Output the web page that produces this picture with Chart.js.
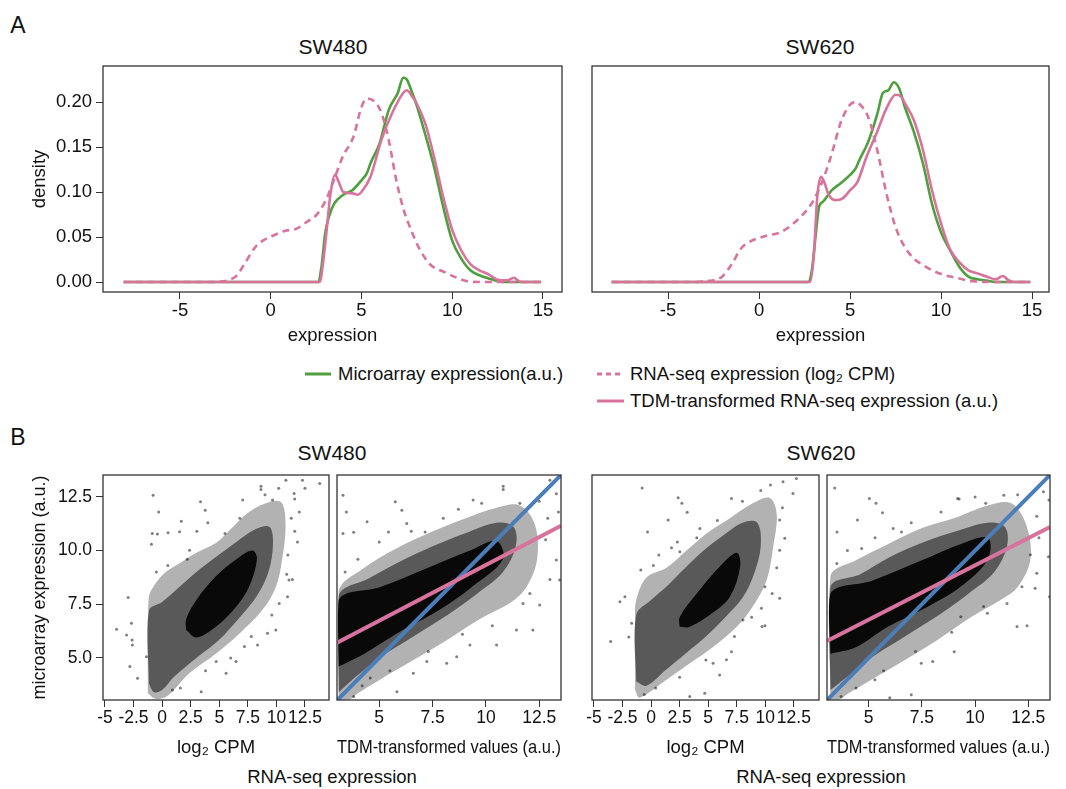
<!DOCTYPE html>
<html><head><meta charset="utf-8">
<script src="https://cdn.jsdelivr.net/npm/chart.js@4.4.1/dist/chart.umd.min.js"></script>
<style>
body{margin:0;background:#fff;width:1066px;height:789px;position:relative;overflow:hidden;font-family:"Liberation Sans",Arial,Helvetica,sans-serif;color:#111}
canvas{position:absolute}
.t{position:absolute;white-space:nowrap;transform:translate(-50%,-50%);line-height:1}
.l{position:absolute;white-space:nowrap;transform:translate(0,-50%);line-height:1}
svg{position:absolute;overflow:visible}
</style></head><body>
<div class="t" style="left:18px;top:25px;font-size:23px">A</div>
<div class="t" style="left:18px;top:437px;font-size:23px">B</div>
<div id="texts"></div>
<script>
// ---------- Panel A: density curves ----------
const seriesNames = ["Microarray expression(a.u.)", "RNA-seq expression (log\u2082 CPM)", "TDM-transformed RNA-seq expression (a.u.)"];
const cellLines = ["SW480", "SW620"];
const densTicksX = [-5, 0, 5, 10, 15];
const densTicksY = [0, 0.05, 0.10, 0.15, 0.20];

const sw480MicroX = [-8.1, 2.6, 2.8, 3.0, 3.2, 3.5, 4.0, 4.5, 5.0, 5.3, 5.5, 6.0, 6.5, 7.0, 7.3, 7.5, 7.8, 8.0, 8.5, 9.0, 9.5, 10.0, 10.5, 11.0, 11.5, 12.0, 12.5, 13.0, 14.9];
const sw480MicroY = [0, 0, 0.017, 0.054, 0.072, 0.087, 0.097, 0.102, 0.113, 0.121, 0.132, 0.154, 0.191, 0.21, 0.227, 0.225, 0.21, 0.199, 0.165, 0.128, 0.084, 0.046, 0.026, 0.013, 0.0075, 0.004, 0.001, 0, 0];
const sw480RnaX = [-8.1, -3.5, -2.5, -2.2, -1.86, -1.45, -0.84, -0.43, 0.18, 0.8, 1.4, 2.0, 2.5, 3.04, 3.55, 3.96, 4.57, 4.98, 5.29, 5.69, 6.1, 6.5, 6.92, 7.33, 7.73, 8.14, 8.76, 9.57, 10.39, 10.8, 11.5, 14.9];
const sw480RnaY = [0, 0, 0.001, 0.003, 0.0074, 0.02, 0.039, 0.046, 0.052, 0.057, 0.059, 0.067, 0.074, 0.091, 0.117, 0.139, 0.162, 0.193, 0.204, 0.201, 0.188, 0.158, 0.113, 0.08, 0.058, 0.039, 0.02, 0.011, 0.0037, 0.001, 0, 0];
const sw480TdmX = [-8.1, 2.7, 2.9, 3.1, 3.3, 3.55, 3.75, 4.0, 4.5, 4.8, 5.0, 5.5, 6.1, 6.7, 7.3, 7.5, 7.8, 8.0, 8.5, 9.0, 9.5, 10.0, 10.5, 11.0, 11.5, 12.0, 12.5, 13.0, 13.4, 13.7, 14.0, 14.9];
const sw480TdmY = [0, 0, 0.024, 0.061, 0.099, 0.119, 0.111, 0.1, 0.0985, 0.097, 0.1, 0.117, 0.158, 0.188, 0.21, 0.213, 0.206, 0.2, 0.177, 0.139, 0.095, 0.058, 0.035, 0.02, 0.013, 0.0085, 0.0026, 0.0018, 0.0048, 0.0007, 0, 0];

const sw620MicroX = [-8.1, 2.7, 2.9, 3.1, 3.3, 3.5, 4.0, 4.5, 5.0, 5.3, 5.5, 6.0, 6.5, 6.8, 7.1, 7.4, 7.7, 8.0, 8.5, 9.0, 9.5, 10.0, 10.5, 11.0, 11.5, 12.0, 12.5, 13.0, 14.9];
const sw620MicroY = [0, 0, 0.013, 0.05, 0.084, 0.089, 0.102, 0.11, 0.119, 0.126, 0.135, 0.156, 0.187, 0.21, 0.213, 0.222, 0.215, 0.195, 0.167, 0.132, 0.087, 0.055, 0.035, 0.017, 0.006, 0.003, 0.0015, 0, 0];
const sw620RnaX = [-8.1, -3.5, -3, -2.5, -2, -1.5, -1, -0.5, 0, 0.5, 1, 1.5, 2, 2.5, 3, 3.5, 4, 4.5, 5, 5.3, 5.5, 6, 6.5, 7, 7.5, 8, 8.5, 9, 9.5, 10, 10.5, 11, 11.5, 12, 12.5, 14.9];
const sw620RnaY = [0, 0, 0.001, 0.002, 0.0065, 0.02, 0.037, 0.045, 0.049, 0.052, 0.054, 0.059, 0.067, 0.077, 0.091, 0.113, 0.143, 0.178, 0.197, 0.2, 0.198, 0.183, 0.146, 0.098, 0.061, 0.039, 0.026, 0.019, 0.013, 0.009, 0.006, 0.004, 0.0015, 0.0005, 0, 0];
const sw620TdmX = [-8.1, 2.8, 3.0, 3.2, 3.4, 3.6, 3.8, 4.2, 4.6, 5.0, 5.4, 5.9, 6.45, 7.0, 7.5, 7.8, 8.0, 8.5, 9.0, 9.5, 10.0, 10.5, 11.0, 11.5, 12.0, 12.5, 13.0, 13.4, 13.7, 14.0, 14.9];
const sw620TdmY = [0, 0, 0.028, 0.095, 0.117, 0.11, 0.098, 0.091, 0.093, 0.102, 0.111, 0.139, 0.165, 0.193, 0.208, 0.206, 0.199, 0.18, 0.147, 0.102, 0.065, 0.036, 0.022, 0.013, 0.0096, 0.006, 0.003, 0.0067, 0.002, 0, 0];

// ---------- Panel B: scatter clouds ----------
const cpmTicks = [-5, -2.5, 0, 2.5, 5, 7.5, 10, 12.5];
const tdmTicks = [5, 7.5, 10, 12.5];
const microTicks = [5.0, 7.5, 10.0, 12.5];

// cloud outlines: outer (sparse edge), mid (dense), core (solid)
const b1OuterX = [-1.25, -1.25, -1.2, -1.0, 0.1, 1.5, 3.0, 4.7, 5.9, 7.6, 9.6, 10.5, 10.8, 10.5, 9.95, 8.8, 6.8, 4.7, 2.4, 0.4, -0.6];
const b1OuterY = [3.35, 5.5, 7.6, 8.1, 8.9, 9.4, 9.9, 10.35, 10.95, 11.8, 12.3, 12.2, 11.1, 9.6, 8.3, 7.25, 6.15, 5.2, 4.3, 3.2, 3.1];
const b1MidX = [-1.15, -1.15, 0.0, 1.5, 3.0, 4.7, 6.5, 8.2, 9.4, 9.7, 9.3, 8.3, 6.8, 4.9, 3.0, 1.0, 0.0, -0.7];
const b1MidY = [3.8, 7.2, 7.6, 8.3, 9.0, 9.7, 10.4, 11.0, 11.1, 10.3, 9.0, 7.9, 6.9, 5.8, 5.0, 4.1, 3.5, 3.4];
const b1CoreX = [2.1, 2.1, 3.0, 4.7, 6.5, 7.9, 8.3, 7.6, 6.5, 4.7, 3.0];
const b1CoreY = [6.3, 6.8, 7.7, 8.8, 9.6, 10.0, 9.6, 8.3, 7.4, 6.45, 5.95];
const b2OuterX = [3.1, 3.1, 4.3, 5.8, 7.4, 8.9, 10.5, 11.6, 12.3, 12.4, 11.9, 11.2, 9.7, 8.2, 6.6, 5.05, 4.0, 3.6];
const b2OuterY = [3.05, 8.1, 9.2, 10.1, 10.85, 11.45, 12.0, 12.1, 11.2, 9.6, 8.3, 7.6, 6.8, 5.85, 4.9, 4.0, 3.35, 3.05];
const b2MidX = [3.1, 3.1, 4.5, 6.0, 7.5, 9.0, 10.5, 11.3, 11.4, 10.8, 9.6, 8.2, 6.6, 5.0, 4.0];
const b2MidY = [3.4, 7.9, 8.7, 9.5, 10.2, 10.8, 11.3, 11.1, 10.2, 9.0, 8.0, 7.0, 6.0, 5.0, 4.2];
const b2CoreX = [3.1, 3.1, 5.05, 7.4, 9.25, 10.5, 10.8, 9.4, 7.85, 5.85, 4.3];
const b2CoreY = [4.6, 7.7, 8.3, 9.25, 10.0, 10.45, 9.6, 8.35, 7.25, 6.15, 5.2];
const b3OuterX = [-1.4, -1.4, -1.3, -0.4, 1.35, 3.1, 4.85, 6.6, 8.9, 10.4, 11.0, 10.7, 10.1, 8.9, 7.5, 5.4, 3.4, 1.35, -1.0];
const b3OuterY = [3.5, 6.8, 7.7, 8.75, 9.2, 10.0, 10.8, 11.4, 12.2, 12.45, 11.7, 10.2, 8.6, 7.4, 6.45, 5.5, 4.75, 3.98, 3.15];
const b3MidX = [-1.3, -1.3, 0.0, 1.5, 3.0, 4.6, 6.3, 8.0, 9.3, 9.6, 9.0, 8.0, 6.5, 4.8, 3.0, 1.2, -0.4];
const b3MidY = [3.9, 7.0, 7.7, 8.4, 9.2, 10.0, 10.7, 11.3, 11.3, 10.2, 8.9, 7.8, 6.9, 6.0, 5.2, 4.4, 3.7];
const b3CoreX = [2.5, 2.5, 4.0, 6.0, 7.5, 7.8, 6.9, 5.4, 3.4];
const b3CoreY = [6.45, 6.9, 8.0, 9.25, 9.9, 9.25, 7.85, 7.1, 6.45];
const b4OuterX = [3.2, 3.2, 4.4, 5.9, 7.5, 9.0, 10.6, 11.7, 12.4, 12.6, 12.0, 11.2, 9.8, 8.25, 6.7, 5.15, 4.05, 3.6];
const b4OuterY = [3.05, 8.8, 9.55, 10.3, 11.05, 11.5, 12.1, 12.2, 11.2, 9.6, 8.3, 7.7, 6.9, 5.85, 4.9, 4.0, 3.35, 3.05];
const b4MidX = [3.2, 3.2, 4.6, 6.0, 7.6, 9.1, 10.6, 11.4, 11.5, 10.9, 9.7, 8.3, 6.7, 5.1, 4.1];
const b4MidY = [3.5, 8.3, 8.9, 9.7, 10.4, 10.9, 11.3, 11.1, 10.2, 9.0, 8.0, 7.0, 6.0, 5.0, 4.2];
const b4CoreX = [3.2, 3.2, 5.15, 7.5, 9.3, 10.6, 10.6, 9.3, 7.8, 5.9, 4.4];
const b4CoreY = [5.2, 8.0, 8.6, 9.55, 10.3, 10.6, 9.6, 8.3, 7.4, 6.45, 5.5];

// individual sparse points around the clouds
const b1PtsX = [-0.79,-0.3,-0.86,-0.41,-0.93,1.68,0.52,1.53,3.36,3.77,4.0,3.04,2.4,-3.98,-2.97,-3.11,-2.68,-2.62,-2.6,-2.82,-2.15,-1.37,3.42,5.6,4.73,6.47,7.2,8.35,9.22,9.95,10.24,10.97,11.1,11.4,11.84,11.0,10.83,12.28,13.79,8.65,8.65,7.05,9.66,11.55,11.6,0.5,2.2,-0.5,5.5,6.8,9.0,10.2,11.3,11.6,10.9,9.6,7.8,6.0,3.8,1.6,0.9,12.0,12.5];
const b1PtsY = [12.58,11.8,10.8,10.77,10.3,11.37,10.83,10.88,12.27,11.88,11.3,10.9,10.02,6.33,7.82,6.07,6.61,5.84,5.6,4.6,4.05,5.06,3.43,4.29,4.83,4.83,5.53,5.6,6.15,6.3,7.54,7.85,8.63,8.65,10.4,9.79,13.28,13.28,13.12,13.0,12.85,12.35,12.35,12.66,12.4,9.3,9.6,9.0,10.8,11.5,12.6,12.9,11.5,10.9,8.9,7.0,6.0,5.0,4.4,3.6,3.5,11.8,12.9];
const b2PtsX = [3.3,3.46,3.3,3.8,4.43,5.75,6.06,6.29,5.43,7.15,8.71,9.4,10.81,10.81,13.0,13.3,11.59,5.83,4.58,6.6,7.23,8.16,8.63,9.25,10.5,11.43,12.2,12.52,11.74,13.46,13.0,13.3,12.06,3.4,4.0,5.0,6.5,8.0,9.8,12.5,12.9,12.8,13.4,10.3,8.9,7.3,5.5,4.2,3.8];
const b2PtsY = [12.58,11.8,10.8,10.85,11.34,12.27,11.88,11.26,10.87,10.87,11.92,12.35,13.0,12.85,13.28,12.65,12.2,3.43,4.06,4.29,4.83,4.75,5.06,5.6,5.6,6.3,6.3,7.47,7.54,8.63,8.65,9.56,8.0,9.0,9.6,10.4,10.9,11.5,12.2,12.3,11.5,10.5,11.8,6.5,6.1,5.3,4.4,3.7,3.2];
const b3PtsX = [-0.78,-0.31,1.5,2.37,2.7,3.16,1.79,2.52,0.68,-2.73,-2.29,-3.54,-1.7,-1.95,3.39,4.7,6.0,5.43,6.6,7.04,8.05,9.71,9.97,9.66,11.26,9.97,11.26,11.7,11.26,12.42,12.72,11.55,10.45,7.04,4.27,0.2,-0.9,2.3,4.0,5.8,8.0,9.6,11.5,11.0,10.6,8.8,7.3,4.8,2.5,0.4,-0.6];
const b3PtsY = [12.92,10.87,11.42,12.46,12.2,11.78,10.13,9.95,9.79,7.62,7.85,5.76,6.61,5.98,3.2,3.36,4.21,4.75,4.91,5.29,6.77,6.46,6.5,7.31,7.78,8.32,10.02,10.57,11.42,12.66,13.36,13.2,13.05,12.43,11.03,9.3,9.1,10.4,10.6,11.4,12.3,12.8,12.0,9.2,8.0,6.9,6.0,4.9,4.1,3.6,3.3];
const b4PtsX = [3.4,5.03,5.34,5.65,4.47,3.51,4.67,6.15,6.54,9.18,10.5,11.35,13.21,13.47,5.99,7.0,5.29,7.47,8.01,9.02,9.33,10.58,11.97,12.44,11.5,12.2,12.82,12.9,13.5,13.45,9.25,3.5,4.0,5.3,7.0,8.4,10.0,12.0,12.9,13.0,12.6,10.4,8.9,7.2,5.7,4.4,3.7];
const b4PtsY = [12.92,12.43,12.2,11.76,11.42,10.87,10.1,11.03,10.87,12.43,12.2,12.58,12.74,12.35,3.15,3.28,3.98,4.75,4.83,5.29,6.92,7.08,6.46,6.5,7.54,8.32,8.25,8.94,7.85,9.71,12.4,9.4,10.0,10.6,11.3,11.8,12.5,12.6,11.6,10.6,9.8,7.4,6.2,5.3,4.4,3.6,3.2];

// fitted lines (end points)
const identityX = [2.9, 13.6];
const identityY = [2.9, 13.6];
const b2FitX = [3.02, 13.52];
const b2FitY = [5.71, 11.16];
const b4FitX = [3.04, 13.52];
const b4FitY = [5.79, 11.1];

// ---------- drawing ----------
const FONT = '"Liberation Sans", Arial, Helvetica, sans-serif';
Chart.defaults.font.family = FONT;
Chart.defaults.color = '#111';
const GREEN = '#4e9f3d', PINK = '#d8739c', BLUE = '#4b7db8';
const TITLE = 18.5;

function pts(xs, ys) { return xs.map((x, i) => ({ x: x, y: ys[i] })); }
function poly(xs, ys) { const p = pts(xs, ys); p.push({ x: xs[0], y: ys[0] }); return p; }

const framePlugin = { id: 'frame', afterDraw(chart) {
  const a = chart.chartArea, ctx = chart.ctx;
  ctx.save(); ctx.strokeStyle = '#333'; ctx.lineWidth = 1.3;
  ctx.strokeRect(a.left, a.top, a.right - a.left, a.bottom - a.top); ctx.restore();
}};

function makeChart(o) {
  const c = document.createElement('canvas');
  c.width = o.w; c.height = o.h;
  c.style.left = o.left + 'px'; c.style.top = o.top + 'px';
  c.style.width = o.w + 'px'; c.style.height = o.h + 'px';
  document.body.appendChild(c);
  new Chart(c, {
    type: 'scatter',
    data: { datasets: o.datasets },
    plugins: [framePlugin],
    options: {
      responsive: false, animation: false, devicePixelRatio: 1,
      layout: { padding: o.pad },
      plugins: { legend: { display: false }, tooltip: { enabled: false } },
      scales: {
        x: {
          type: 'linear', min: o.xMin, max: o.xMax,
          afterBuildTicks: s => { s.ticks = o.xTicks.map(v => ({ value: v })); },
          afterFit: s => { s.height = o.xH; s.paddingLeft = 0; s.paddingRight = 0; },
          ticks: { autoSkip: false, maxRotation: 0, minRotation: 0, padding: 1, font: { size: o.tick }, color: '#111', callback: v => o.xFmt(v) },
          grid: { display: true, drawOnChartArea: false, drawTicks: true, tickLength: 7, color: '#333', lineWidth: 1 },
          border: { display: false },
          title: { display: !!o.xTitle, text: o.xTitle || '', font: { size: TITLE }, color: '#111', padding: { top: 0, bottom: o.xTitlePad } }
        },
        y: {
          type: 'linear', min: o.yMin, max: o.yMax, display: o.showY,
          afterBuildTicks: s => { s.ticks = o.yTicks.map(v => ({ value: v })); },
          afterFit: s => { if (o.showY) s.width = o.yW; s.paddingTop = 0; s.paddingBottom = 0; },
          ticks: { autoSkip: false, padding: 4, font: { size: o.tick }, color: '#111', callback: v => o.yFmt(v) },
          grid: { display: true, drawOnChartArea: false, drawTicks: true, tickLength: 7, color: '#333', lineWidth: 1 },
          border: { display: false },
          title: { display: !!o.yTitle, text: o.yTitle || '', font: { size: o.yTitleSize || TITLE }, color: '#111', padding: { top: 29, bottom: 0 } }
        }
      }
    }
  });
}

function densSets(mx, my, rx, ry, tx, ty) {
  const base = { showLine: true, pointRadius: 0, borderWidth: 2.6, cubicInterpolationMode: 'monotone', clip: 0 };
  return [
    Object.assign({ label: seriesNames[2], data: pts(tx, ty), borderColor: PINK, order: 0 }, base),
    Object.assign({ label: seriesNames[1], data: pts(rx, ry), borderColor: PINK, borderDash: [7, 5], order: 1 }, base),
    Object.assign({ label: seriesNames[0], data: pts(mx, my), borderColor: GREEN, order: 2 }, base)
  ];
}

function cloudSets(ox, oy, mx, my, cx, cy, px, py, fitX, fitY) {
  const area = { type: 'line', fill: 'shape', borderWidth: 0, borderColor: 'rgba(0,0,0,0)', tension: 0.35, pointRadius: 0, clip: 0 };
  const sets = [
    { type: 'scatter', data: pts(px, py), pointRadius: 1.5, backgroundColor: 'rgba(0,0,0,0.5)', borderWidth: 0, order: 3, clip: 0 },
    Object.assign({ data: poly(cx, cy), backgroundColor: 'rgba(0,0,0,0.9)', order: 4 }, area),
    Object.assign({ data: poly(mx, my), backgroundColor: 'rgba(0,0,0,0.5)', order: 5 }, area),
    Object.assign({ data: poly(ox, oy), backgroundColor: 'rgba(0,0,0,0.3)', order: 6 }, area)
  ];
  if (fitX) {
    sets.push({ type: 'line', data: pts(fitX, fitY), borderColor: PINK, borderWidth: 4, pointRadius: 0, order: 0, clip: 0 });
    sets.push({ type: 'line', data: pts(identityX, identityY), borderColor: BLUE, borderWidth: 4, pointRadius: 0, order: 1, clip: 0 });
  }
  return sets;
}

const f2 = v => Number(v).toFixed(2), f1 = v => Number(v).toFixed(1), fs = v => String(v);

// Panel A
makeChart({ left: 0, top: 60, w: 580, h: 300, pad: { left: 0, right: 18, top: 6, bottom: 0 }, yW: 103, xH: 68, showY: true, tick: 18.5,
  xMin: -9.24, xMax: 16.05, yMin: -0.0111, yMax: 0.24, xTicks: densTicksX, yTicks: densTicksY, xFmt: fs, yFmt: f2,
  xTitle: 'expression', xTitlePad: 13, yTitle: 'density',
  datasets: densSets(sw480MicroX, sw480MicroY, sw480RnaX, sw480RnaY, sw480TdmX, sw480TdmY) });
makeChart({ left: 580, top: 60, w: 486, h: 300, pad: { left: 12, right: 17, top: 6, bottom: 0 }, xH: 68, showY: false, tick: 18.5,
  xMin: -9.18, xMax: 15.93, yMin: -0.0111, yMax: 0.24, xTicks: densTicksX, yTicks: densTicksY, xFmt: fs, yFmt: f2,
  xTitle: 'expression', xTitlePad: 13,
  datasets: densSets(sw620MicroX, sw620MicroY, sw620RnaX, sw620RnaY, sw620TdmX, sw620TdmY) });

// Panel B
makeChart({ left: 0, top: 470, w: 333, h: 319, pad: { left: 0, right: 3, top: 5, bottom: 0 }, yW: 103, xH: 89, showY: true, tick: 17.5,
  xMin: -5.17, xMax: 14.6, yMin: 3.04, yMax: 13.52, xTicks: cpmTicks, yTicks: microTicks, xFmt: fs, yFmt: f1,
  xTitle: 'log\u2082 CPM', xTitlePad: 30, yTitle: 'microarray expression (a.u.)', yTitleSize: 18,
  datasets: cloudSets(b1OuterX, b1OuterY, b1MidX, b1MidY, b1CoreX, b1CoreY, b1PtsX, b1PtsY) });
makeChart({ left: 333, top: 470, w: 233, h: 319, pad: { left: 2, right: 5, top: 5, bottom: 0 }, xH: 89, showY: false, tick: 17.5,
  xMin: 3.02, xMax: 13.52, yMin: 3.04, yMax: 13.52, xTicks: tdmTicks, yTicks: microTicks, xFmt: fs, yFmt: f1,
  xTitle: 'TDM-transformed values (a.u.)', xTitlePad: 30,
  datasets: cloudSets(b2OuterX, b2OuterY, b2MidX, b2MidY, b2CoreX, b2CoreY, b2PtsX, b2PtsY, b2FitX, b2FitY) });
makeChart({ left: 580, top: 470, w: 243, h: 319, pad: { left: 12, right: 3, top: 5, bottom: 0 }, xH: 89, showY: false, tick: 17.5,
  xMin: -5.17, xMax: 14.7, yMin: 3.04, yMax: 13.52, xTicks: cpmTicks, yTicks: microTicks, xFmt: fs, yFmt: f1,
  xTitle: 'log\u2082 CPM', xTitlePad: 30,
  datasets: cloudSets(b3OuterX, b3OuterY, b3MidX, b3MidY, b3CoreX, b3CoreY, b3PtsX, b3PtsY) });
makeChart({ left: 823, top: 470, w: 243, h: 319, pad: { left: 2, right: 16, top: 5, bottom: 0 }, xH: 89, showY: false, tick: 17.5,
  xMin: 3.04, xMax: 13.52, yMin: 3.04, yMax: 13.52, xTicks: tdmTicks, yTicks: microTicks, xFmt: fs, yFmt: f1,
  xTitle: 'TDM-transformed values (a.u.)', xTitlePad: 30,
  datasets: cloudSets(b4OuterX, b4OuterY, b4MidX, b4MidY, b4CoreX, b4CoreY, b4PtsX, b4PtsY, b4FitX, b4FitY) });

// titles and shared labels
const T = document.getElementById('texts');
function txt(cls, x, y, s, size) { const d = document.createElement('div'); d.className = cls; d.style.left = x + 'px'; d.style.top = y + 'px'; d.style.fontSize = size + 'px'; d.textContent = s; T.appendChild(d); }
txt('t', 333, 46, cellLines[0], 21); txt('t', 820, 46, cellLines[1], 21);
txt('t', 332, 452, cellLines[0], 21); txt('t', 821, 452, cellLines[1], 21);
txt('t', 332, 777, 'RNA-seq expression', 18.5); txt('t', 821, 777, 'RNA-seq expression', 18.5);

// legend for panel A
function legLine(x1, x2, y, color, dash) {
  const ns = 'http://www.w3.org/2000/svg';
  const s = document.createElementNS(ns, 'svg');
  s.setAttribute('width', x2 - x1); s.setAttribute('height', 6);
  s.style.left = x1 + 'px'; s.style.top = (y - 3) + 'px';
  const l = document.createElementNS(ns, 'line');
  l.setAttribute('x1', 0); l.setAttribute('x2', x2 - x1); l.setAttribute('y1', 3); l.setAttribute('y2', 3);
  l.setAttribute('stroke', color); l.setAttribute('stroke-width', 3);
  if (dash) l.setAttribute('stroke-dasharray', dash);
  s.appendChild(l); T.appendChild(s);
}
legLine(305, 331, 374, GREEN); txt('l', 338, 374, seriesNames[0], 18.5);
legLine(597, 624, 374, PINK, '5,4'); txt('l', 630, 374, seriesNames[1], 18.5);
legLine(597, 624, 401, PINK); txt('l', 630, 401, seriesNames[2], 18.5);
</script>
</body></html>
